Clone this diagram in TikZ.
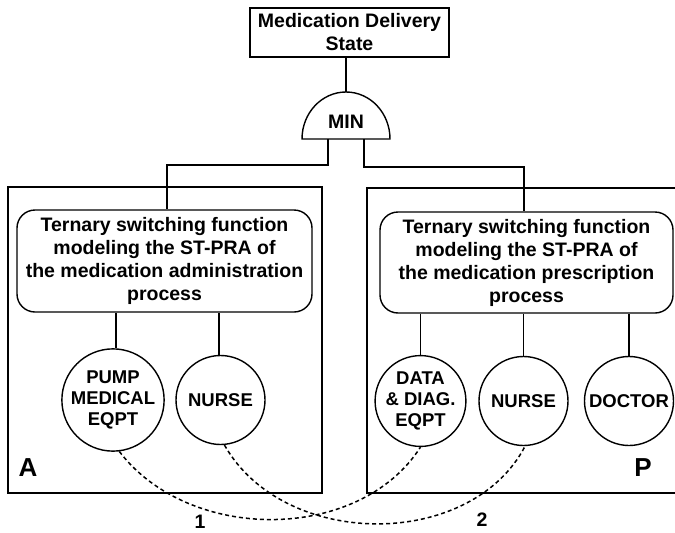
\documentclass[tikz,border=0pt]{standalone}
\usepackage{fontspec}
\setmainfont{Liberation Sans}
\usetikzlibrary{calc}
\begin{document}
\begin{tikzpicture}[x=1pt,y=-1pt,
  every node/.style={font=\bfseries},
  line/.style={line width=1.4pt},
  bigtext/.style={font=\fontsize{19.5}{23}\selectfont\bfseries, align=center},
  circtext/.style={font=\fontsize{18.5}{21}\selectfont\bfseries, align=center},
  topbox/.style={draw, line width=1.4pt, rectangle, minimum width=199pt, minimum height=49pt, inner sep=0pt, bigtext},
  funcbox/.style={draw, line width=1.4pt, rounded corners=18pt, inner sep=0pt, bigtext},
  agent/.style={draw, line width=1.4pt, circle, minimum size=89pt, inner sep=0pt, circtext},
  panel/.style={draw, line width=1.4pt},
  corner/.style={font=\fontsize{26}{30}\selectfont\bfseries},
  link/.style={line width=1.5pt, dash pattern=on 4pt off 3pt},
  linklabel/.style={font=\fontsize{19.5}{23}\selectfont\bfseries}
]
\useasboundingbox (0,0) rectangle (675,533);
\clip (0,0) rectangle (675,533);

% panels
\draw[panel] (8,187) rectangle (322,493);
\draw[panel] (367,188) rectangle (700,493);

% top state box
\node[topbox] (state) at (349.5,32.5) {Medication Delivery\\State};

% MIN gate
\draw[line width=1.4pt] (302,139) arc[start angle=180, end angle=360, x radius=44, y radius=47] -- cycle;
\node[font=\fontsize{19.5}{23}\selectfont\bfseries] (min) at (346,122) {MIN};
\coordinate (minT) at (346,92);
\coordinate (minL) at (328,139);
\coordinate (minR) at (364,139);

% function boxes
\node[funcbox, minimum width=295pt, minimum height=102pt] (lbox) at (164.5,261)
  {Ternary switching function\\modeling the ST-PRA of\\the medication administration\\process};
\node[funcbox, minimum width=293pt, minimum height=101pt] (rbox) at (526.5,262.5)
  {Ternary switching function\\modeling the ST-PRA of\\the medication prescription\\process};

% agents
\node[agent, minimum size=87pt] (pump) at (113,400) {PUMP\\MEDICAL\\EQPT};
\node[agent] (nurseA) at (220.5,400) {NURSE};
\node[agent] (data) at (420.5,401) {DATA\\\& DIAG.\\EQPT};
\node[agent] (nurseP) at (523.5,401) {NURSE};
\node[agent] (doctor) at (629,401) {DOCTOR};

% connectors
\draw[line] (state.south -| minT) -- (minT);
\draw[line] (minL) -- ++(0,26) -| ([xshift=2.5pt]lbox.north);
\draw[line] (minR) -- ++(0,28) -| ([xshift=-2.5pt]rbox.north);
\draw[line] ([xshift=3pt]pump.north) -- ([xshift=3pt]pump.north |- lbox.south);
\draw[line] ([xshift=-1.5pt]nurseA.north) -- ([xshift=-1.5pt]nurseA.north |- lbox.south);
\draw[line] (data.north) -- (data.north |- rbox.south);
\draw[line] (nurseP.north) -- (nurseP.north |- rbox.south);
\draw[line] (doctor.north) -- (doctor.north |- rbox.south);

% panel labels
\node[corner] (labA) at (28,468) {A};
\node[corner] (labP) at (643,468) {P};

% dashed links
\draw[link] (pump.-83) .. controls (189,543) and (359,543) .. (data.-90);
\draw[link] (nurseA.-85) .. controls (284,550) and (471,550) .. (nurseP.-88);
\node[linklabel] (l1) at (200,522) {1};
\node[linklabel] (l2) at (482,520) {2};
\end{tikzpicture}
\end{document}
